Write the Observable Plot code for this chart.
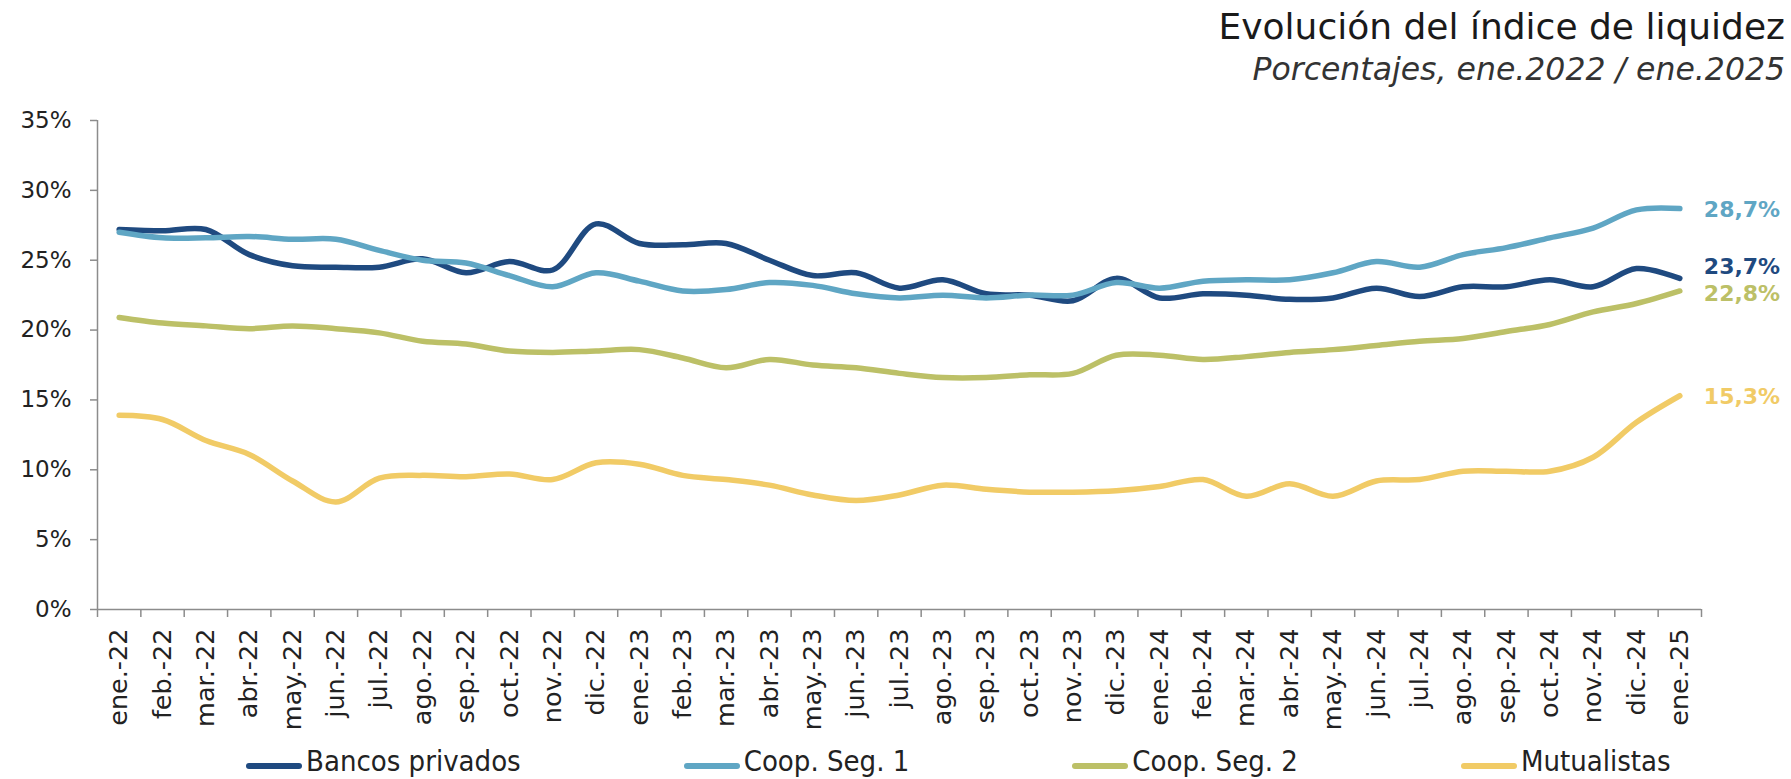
<!DOCTYPE html>
<html><head><meta charset="utf-8">
<script src="https://cdn.jsdelivr.net/npm/d3@7"></script>
<script src="https://cdn.jsdelivr.net/npm/@observablehq/plot@0.6"></script>
<style>
html,body{margin:0;padding:0;background:#fff;}
body{width:1791px;height:779px;overflow:hidden;position:relative;font-family:"DejaVu Sans",sans-serif;color:#222;}
#title{position:absolute;right:6px;top:9px;font-size:36px;line-height:1;white-space:nowrap;color:#1a1a1a;}
#subtitle{position:absolute;right:6px;top:54px;font-size:31.5px;line-height:1;font-style:italic;white-space:nowrap;color:#333;}
#chart{position:absolute;left:0;top:95px;}
#legend{position:absolute;left:246px;top:746px;display:flex;gap:163px;font-family:"DejaVu Sans Condensed","DejaVu Sans",sans-serif;font-stretch:condensed;font-size:29px;line-height:30px;color:#222;white-space:nowrap;}
.item{display:flex;align-items:center;}
.sw{width:56px;height:6px;border-radius:3px;margin-right:4px;transform:translateY(5px);}
</style></head><body>
<div id="title">Evolución del índice de liquidez</div>
<div id="subtitle">Porcentajes, ene.2022 / ene.2025</div>
<div id="chart"></div>
<div id="legend"></div>
<script>
const months = ["ene.-22","feb.-22","mar.-22","abr.-22","may.-22","jun.-22","jul.-22","ago.-22","sep.-22","oct.-22","nov.-22","dic.-22",
"ene.-23","feb.-23","mar.-23","abr.-23","may.-23","jun.-23","jul.-23","ago.-23","sep.-23","oct.-23","nov.-23","dic.-23",
"ene.-24","feb.-24","mar.-24","abr.-24","may.-24","jun.-24","jul.-24","ago.-24","sep.-24","oct.-24","nov.-24","dic.-24","ene.-25"];
const seriesNames = ["Bancos privados","Coop. Seg. 1","Coop. Seg. 2","Mutualistas"];
const seriesColors = ["#1f4a80","#5fa6c4","#bcc067","#f1cb66"];
const bancos = [27.2,27.1,27.2,25.4,24.6,24.5,24.5,25.1,24.1,24.9,24.3,27.6,26.2,26.1,26.2,25.0,23.9,24.1,23.0,23.6,22.6,22.5,22.1,23.7,22.3,22.6,22.5,22.2,22.3,23.0,22.4,23.1,23.1,23.6,23.1,24.4,23.7];
const coop1 = [27.0,26.6,26.6,26.7,26.5,26.5,25.7,25.0,24.8,23.9,23.1,24.1,23.5,22.8,22.9,23.4,23.2,22.6,22.3,22.5,22.3,22.5,22.5,23.4,23.0,23.5,23.6,23.6,24.1,24.9,24.5,25.4,25.9,26.6,27.3,28.6,28.7];
const coop2 = [20.9,20.5,20.3,20.1,20.3,20.1,19.8,19.2,19.0,18.5,18.4,18.5,18.6,18.0,17.3,17.9,17.5,17.3,16.9,16.6,16.6,16.8,16.9,18.2,18.2,17.9,18.1,18.4,18.6,18.9,19.2,19.4,19.9,20.4,21.3,21.9,22.8];
const mutual = [13.9,13.6,12.1,11.1,9.2,7.7,9.4,9.6,9.5,9.7,9.3,10.5,10.4,9.6,9.3,8.9,8.2,7.8,8.2,8.9,8.6,8.4,8.4,8.5,8.8,9.3,8.1,9.0,8.1,9.2,9.3,9.9,9.9,9.9,10.9,13.4,15.3];
const yTicks = [0,5,10,15,20,25,30,35];

const seriesValues = [bancos, coop1, coop2, mutual];
const data = [];
seriesValues.forEach((vals, s) => vals.forEach((v, i) => data.push({series: seriesNames[s], i, v})));
const last = months.length - 1;
const ends = seriesValues.map((vals, s) => ({series: seriesNames[s], i: last, v: vals[last], label: vals[last].toFixed(1).replace(".", ",") + "%"}));
// per-label vertical nudge, in order: Bancos, Coop1, Coop2, Mutualistas
const labelDy = [-11, 1, 3, 1];

const axisColor = "#8c8c8c";
const chart = Plot.plot({
  width: 1791, height: 640,
  marginLeft: 97, marginRight: 90, marginTop: 25, marginBottom: 126,
  style: {fontFamily: "DejaVu Sans", background: "white", color: "#222", overflow: "visible"},
  x: {type: "linear", domain: [-0.5, last + 0.5], axis: null},
  y: {domain: [0, 35], axis: null},
  color: {domain: seriesNames, range: seriesColors},
  marks: [
    Plot.axisY({ticks: yTicks, tickFormat: d => d + "%", label: null, tickSize: 7, tickPadding: 19, fontSize: 23, stroke: axisColor, strokeWidth: 1.5}),
    Plot.axisX({ticks: d3.range(months.length + 1).map(i => i - 0.5), tickFormat: () => "", label: null, tickSize: 8, stroke: axisColor, strokeWidth: 1.5}),
    Plot.axisX({ticks: d3.range(months.length), tickFormat: i => months[i], label: null, tickRotate: -90, tickSize: 0, tickPadding: 19, fontSize: 25.5}),
    Plot.ruleY([0], {stroke: axisColor, strokeWidth: 1.5}),
    Plot.ruleX([-0.5], {stroke: axisColor, strokeWidth: 1.5}),
    Plot.lineY(data, {x: "i", y: "v", z: "series", stroke: "series", strokeWidth: 5.5, curve: "catmull-rom", strokeLinecap: "round", strokeLinejoin: "round"}),
    ...ends.map((e, s) => Plot.text([e], {x: "i", y: "v", text: "label", fill: seriesColors[s], dx: 24, dy: labelDy[s], textAnchor: "start", fontSize: 22, fontWeight: "bold"}))
  ]
});
document.getElementById("chart").appendChild(chart);

const legend = document.getElementById("legend");
seriesNames.forEach((n, s) => {
  const it = document.createElement("div"); it.className = "item";
  const sw = document.createElement("div"); sw.className = "sw"; sw.style.background = seriesColors[s];
  const tx = document.createElement("span"); tx.textContent = n;
  it.appendChild(sw); it.appendChild(tx); legend.appendChild(it);
});
</script>
</body></html>
